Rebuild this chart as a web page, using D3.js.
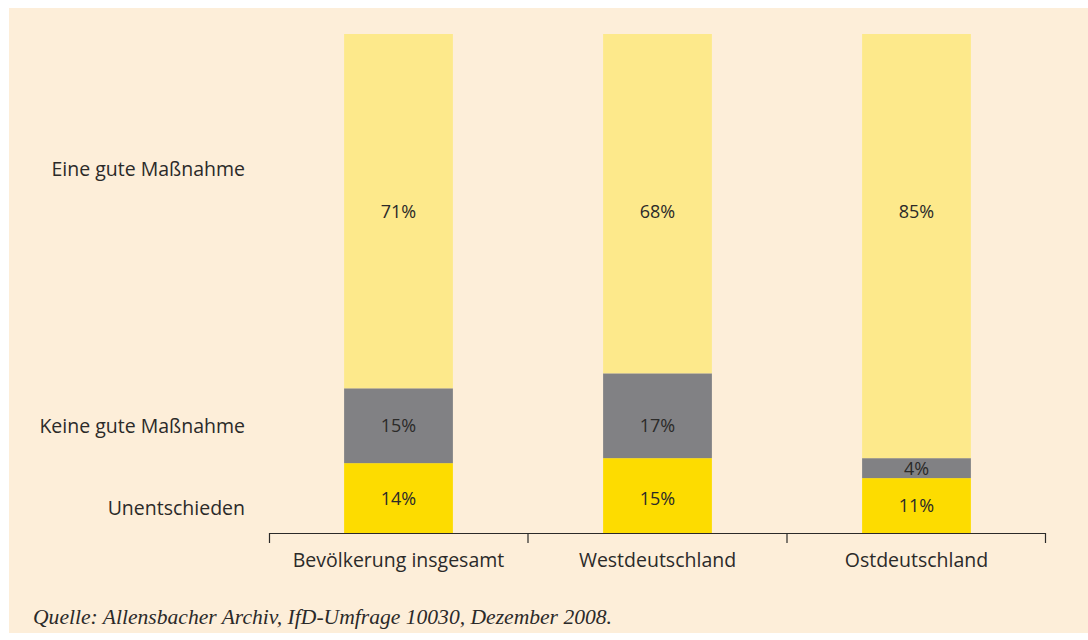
<!DOCTYPE html>
<html>
<head>
<meta charset="utf-8">
<script src="https://cdn.jsdelivr.net/npm/d3@7"></script>
<style>
  body { margin: 0; background: #fff; }
  svg { display: block; }
  text { font-family: "Open Sans", "Noto Sans", sans-serif; fill: #2b2a29; }
</style>
</head>
<body>
<div id="vis"></div>
<script>
var regions = ['Bevölkerung insgesamt', 'Westdeutschland', 'Ostdeutschland'];
var answers = ['Unentschieden', 'Keine gute Maßnahme', 'Eine gute Maßnahme'];
var undecided = [14, 15, 11];
var notGood = [15, 17, 4];
var good = [71, 68, 85];
var legendAt = [5, 21.4, 73];   // where the answer labels sit on the percent axis
var source = 'Quelle: Allensbacher Archiv, IfD-Umfrage 10030, Dezember 2008.';

var width = 1088,
    height = 640;
var margin = { top: 34, bottom: 107, left: 269, right: 42 };

var svg = d3.select('#vis')
    .append('svg')
    .attr('width', width)
    .attr('height', height);

svg.append('rect')
    .attr('x', 9)
    .attr('y', 8)
    .attr('width', width - 9)
    .attr('height', 625)
    .attr('fill', '#fdeed9');

var g = svg.append('g')
    .attr('transform', 'translate(' + margin.left + ',' + margin.top + ')');

var w = width - margin.left - margin.right;
var h = height - margin.top - margin.bottom;

var x_scale = d3.scaleBand()
    .domain(regions)
    .range([0, w])
    .paddingInner(0.58)
    .paddingOuter(0.29);

var y_scale = d3.scaleLinear()
    .domain([0, 100])
    .range([h, 0]);

var colors = d3.scaleOrdinal()
    .domain(answers)
    .range(['#fddc00', '#818184', '#fde98b']);

var rows = regions.map(function(r, i) {
    return { region: r, 'Unentschieden': undecided[i], 'Keine gute Maßnahme': notGood[i], 'Eine gute Maßnahme': good[i] };
});

var series = d3.stack().keys(answers)(rows);

// value labels line up with the first bar's rows unless the segment is too tight
function labelY(d, i, key) {
    var s = series.find(function(x) { return x.key === key; });
    var row = (y_scale(s[0][0]) + y_scale(s[0][1])) / 2;
    var top = y_scale(d[1]), bottom = y_scale(d[0]);
    if (row - top >= 20 && bottom - row >= 20) return row;
    return (top + bottom) / 2;
}

var layers = g.selectAll('.layer')
    .data(series)
    .enter()
    .append('g')
    .attr('class', 'layer')
    .attr('fill', function(d) { return colors(d.key); });

layers.selectAll('rect')
    .data(function(d) { return d; })
    .enter()
    .append('rect')
    .attr('x', function(d) { return x_scale(d.data.region); })
    .attr('width', x_scale.bandwidth())
    .attr('y', function(d) { return y_scale(d[1]); })
    .attr('height', function(d) { return y_scale(d[0]) - y_scale(d[1]); });

layers.each(function(s) {
    d3.select(this).selectAll('text')
        .data(s)
        .enter()
        .append('text')
        .attr('x', function(d) { return x_scale(d.data.region) + x_scale.bandwidth() / 2; })
        .attr('y', function(d, i) { return labelY(d, i, s.key); })
        .attr('dy', '0.36em')
        .attr('text-anchor', 'middle')
        .style('font-size', '18px')
        .text(function(d) { return (d[1] - d[0]) + '%'; });
});

// x axis: ticks sit between the bands
var axis = g.append('g')
    .attr('transform', 'translate(0,' + h + ')');

axis.append('path')
    .attr('d', 'M0.5,10V0.5H' + (w - 0.5) + 'V10')
    .attr('fill', 'none')
    .attr('stroke', '#2b2a29')
    .attr('stroke-width', 1.2);

axis.selectAll('.tick')
    .data(regions.slice(1))
    .enter()
    .append('line')
    .attr('x1', function(d) { return x_scale(d) - x_scale.step() * 0.29; })
    .attr('x2', function(d) { return x_scale(d) - x_scale.step() * 0.29; })
    .attr('y1', 0)
    .attr('y2', 10)
    .attr('stroke', '#2b2a29')
    .attr('stroke-width', 1.2);

axis.selectAll('.label')
    .data(regions)
    .enter()
    .append('text')
    .attr('x', function(d) { return x_scale(d) + x_scale.bandwidth() / 2; })
    .attr('y', 34)
    .attr('text-anchor', 'middle')
    .style('font-size', '19.5px')
    .text(function(d) { return d; });

g.selectAll('.answer')
    .data(answers)
    .enter()
    .append('text')
    .attr('x', -24)
    .attr('y', function(d, i) { return y_scale(legendAt[i]); })
    .attr('dy', '0.36em')
    .attr('text-anchor', 'end')
    .style('font-size', '19.5px')
    .text(function(d) { return d; });

svg.append('text')
    .attr('x', 33)
    .attr('y', 624)
    .attr('textLength', 579)
    .attr('lengthAdjust', 'spacingAndGlyphs')
    .style('font-family', '"Liberation Serif", serif')
    .style('font-style', 'italic')
    .style('font-size', '21px')
    .text(source);
</script>
</body>
</html>
